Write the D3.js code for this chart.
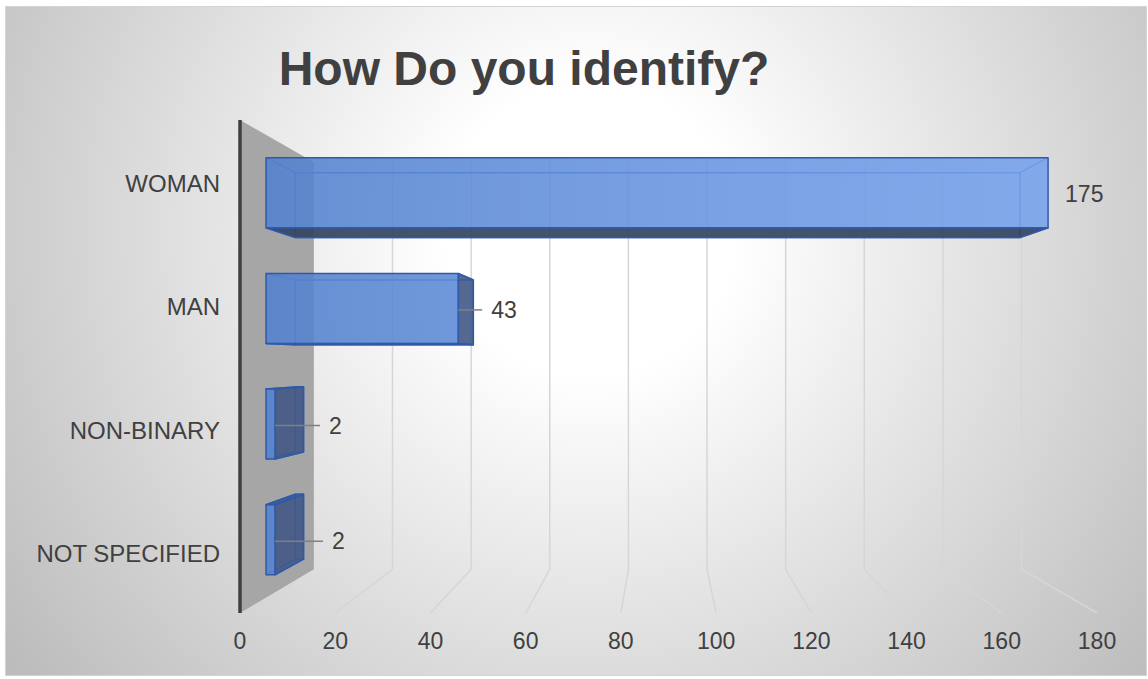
<!DOCTYPE html>
<html>
<head>
<meta charset="utf-8">
<script src="https://cdn.jsdelivr.net/npm/d3@7"></script>
<style>
  html, body { margin: 0; padding: 0; background: #ffffff; }
  svg { display: block; }
  text { font-family: "Liberation Sans", Arial, sans-serif; fill: #404040; }
</style>
</head>
<body>
<script>
// Survey answers: how respondents identify
const categories = ["WOMAN", "MAN", "NON-BINARY", "NOT SPECIFIED"];
const counts = [175, 43, 2, 2];
const xTicks = [0, 20, 40, 60, 80, 100, 120, 140, 160, 180];
const title = "How Do you identify?";

const W = 1148, H = 679;
const svg = d3.select("body").append("svg").attr("width", W).attr("height", H);
const defs = svg.append("defs");

// Chart-area background: soft radial gradient, white centre to grey rim
const bg = defs.append("radialGradient").attr("id", "bg")
  .attr("gradientUnits", "userSpaceOnUse")
  .attr("cx", 590).attr("cy", 230).attr("r", 720);
bg.append("stop").attr("offset", "0").attr("stop-color", "#ffffff");
bg.append("stop").attr("offset", "0.2").attr("stop-color", "#ffffff");
bg.append("stop").attr("offset", "1").attr("stop-color", "#bcbcbc");

// Front face of the bars brightens towards the right
const barFill = defs.append("linearGradient").attr("id", "barFront")
  .attr("gradientUnits", "userSpaceOnUse")
  .attr("x1", 260).attr("x2", 1050).attr("y1", 0).attr("y2", 0);
barFill.append("stop").attr("offset", "0").attr("stop-color", "#5382cf");
barFill.append("stop").attr("offset", "1").attr("stop-color", "#76a2ec");

svg.append("rect")
  .attr("x", 5.5).attr("y", 6.5).attr("width", 1141).attr("height", 669)
  .attr("fill", "url(#bg)").attr("stroke", "#d4d4d4").attr("stroke-width", 1);

svg.append("text")
  .attr("x", 524).attr("y", 85)
  .attr("text-anchor", "middle")
  .style("font-size", "48px").style("font-weight", "bold")
  .text(title);

// Front-plane scales; depth is applied through a perspective projection
const x = d3.scaleLinear().domain([0, 180]).range([240, 1097]);
const y = d3.scaleBand().domain(categories).range([120, 613])
  .paddingInner(0.395).paddingOuter(0.1975);
const vp = { x: 664, y: 362 };
const depth = z => 1 / (1 + 0.211 * z);
const P = (X, Y, z) => {
  const s = depth(z);
  return [vp.x + (X - vp.x) * s, vp.y + (Y - vp.y) * s];
};
const wallTop = 120, floorY = 613;
const line = d3.line();

// Back-wall gridlines and their continuation across the floor
const grid = svg.append("g").attr("fill", "none").attr("stroke", "#d6d6d6").attr("stroke-width", 1.5);
xTicks.filter(v => v > 0).forEach(v => {
  grid.append("path").attr("d", line([P(x(v), wallTop, 1), P(x(v), floorY, 1), P(x(v), floorY, 0)]));
});

// Grey side wall behind the category axis
svg.append("path")
  .attr("d", line([P(x(0), wallTop, 0), P(x(0), wallTop, 1), P(x(0), floorY, 1), P(x(0), floorY, 0)]) + "Z")
  .attr("fill", "#a6a6a6");

svg.append("path")
  .attr("d", line([P(x(0), wallTop, 0), P(x(0), floorY, 0)]))
  .attr("stroke", "#3f3f3f").attr("stroke-width", 3.5);

// 3D bars drawn as translucent boxes
const z0 = 0.31, z1 = 0.71;
const bars = svg.append("g");
categories.forEach((c, i) => {
  const v = counts[i];
  const X0 = x(0), X1 = x(v);
  const Yt = y(c), Yb = y(c) + y.bandwidth();
  const ftl = P(X0, Yt, z0), ftr = P(X1, Yt, z0), fbl = P(X0, Yb, z0), fbr = P(X1, Yb, z0);
  const btl = P(X0, Yt, z1), btr = P(X1, Yt, z1), bbl = P(X0, Yb, z1), bbr = P(X1, Yb, z1);
  const g = bars.append("g").attr("stroke-linejoin", "round");

  // hidden edges, seen through the front face
  const hidden = g.append("g").attr("fill", "none").attr("stroke", "#3a6cc6").attr("stroke-width", 1.5);
  hidden.append("path").attr("d", line([btl, btr, bbr, bbl]) + "Z");
  [[ftl, btl], [fbl, bbl], [ftr, btr], [fbr, bbr]].forEach(e => hidden.append("path").attr("d", line(e)));

  // underside visible when the bar sits above eye level
  if (Yb < vp.y) {
    g.append("path").attr("d", line([fbl, fbr, bbr, bbl]) + "Z")
      .attr("fill", "#34435f").attr("fill-opacity", 0.92)
      .attr("stroke", "#2f5aa8").attr("stroke-width", 1.5);
  }
  // top visible when the bar sits below eye level
  if (Yt > vp.y) {
    g.append("path").attr("d", line([ftl, ftr, btr, btl]) + "Z")
      .attr("fill", "#3c5690").attr("fill-opacity", 0.9)
      .attr("stroke", "#2f5aa8").attr("stroke-width", 1.5);
  }
  // right end visible when it lies left of the eye
  if (X1 < vp.x) {
    g.append("path").attr("d", line([ftr, btr, bbr, fbr]) + "Z")
      .attr("fill", "#415886").attr("fill-opacity", 0.9)
      .attr("stroke", "#2f5aa8").attr("stroke-width", 1.5);
  }
  g.append("path").attr("d", line([ftl, ftr, fbr, fbl]) + "Z")
    .attr("fill", "url(#barFront)").attr("fill-opacity", 0.88)
    .attr("stroke", "#2f5aa8").attr("stroke-width", 1.5);
});

// Value labels, with leader lines where the label sits away from the bar
const labelGap = [17, 33, 54, 57];
const labels = svg.append("g");
categories.forEach((c, i) => {
  const v = counts[i];
  const a = P(x(v), y(c) + y.bandwidth() / 2, z0);
  const gap = labelGap[i];
  const ly = a[1] + 1.5;
  if (gap > 20) {
    labels.append("path").attr("d", line([[a[0], ly], [a[0] + gap - 9, ly]]))
      .attr("stroke", "#808080").attr("stroke-width", 1.5);
  }
  labels.append("text")
    .attr("x", a[0] + gap).attr("y", ly).attr("dy", "0.35em")
    .style("font-size", "23px")
    .text(v);
});

// Category labels
svg.append("g").selectAll("text").data(categories).join("text")
  .attr("x", 220).attr("y", d => y(d) + y.bandwidth() / 2 + 2).attr("dy", "0.35em")
  .attr("text-anchor", "end")
  .style("font-size", "24px")
  .text(d => d);

// Value axis labels along the front edge of the floor
svg.append("g").selectAll("text").data(xTicks).join("text")
  .attr("x", d => x(d)).attr("y", 649)
  .attr("text-anchor", "middle")
  .style("font-size", "23px")
  .text(d => d);
</script>
</body>
</html>
